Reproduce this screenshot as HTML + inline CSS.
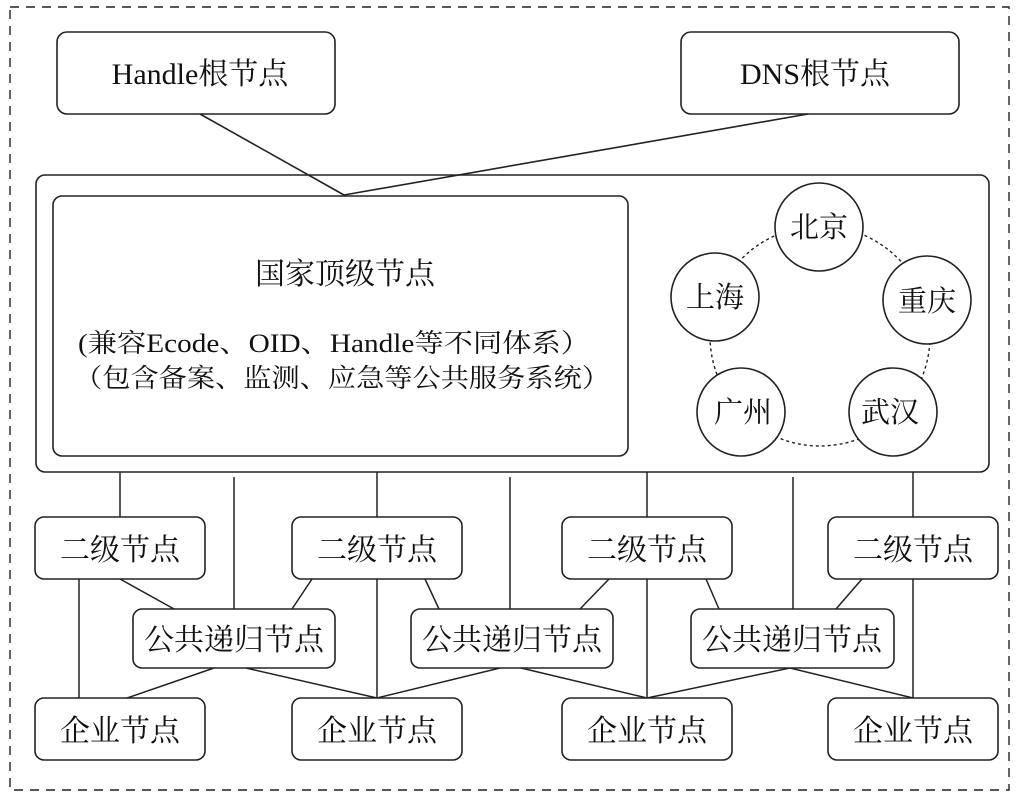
<!DOCTYPE html>
<html><head><meta charset="utf-8"><style>
html,body{margin:0;padding:0;background:#fff;}
svg{display:block;}
text{font-family:"Liberation Serif","Noto Serif CJK SC","Noto Sans CJK SC",serif;fill:#111;}
</style></head><body>
<svg width="1017" height="798" viewBox="0 0 1017 798" xmlns="http://www.w3.org/2000/svg">
<g fill="none" stroke="#222" stroke-width="1.6">
<rect x="10" y="7" width="999" height="783" stroke-dasharray="9,7" stroke-width="1.4"/>
<rect x="57" y="32" width="278" height="82" rx="10"/>
<rect x="681" y="32" width="278" height="82" rx="10"/>
<line x1="200" y1="114" x2="344" y2="195"/>
<line x1="808" y1="114" x2="344" y2="195"/>
<rect x="36" y="175" width="953" height="297" rx="9"/>
<rect x="53" y="196" width="575" height="260" rx="9"/>
<circle cx="820" cy="336" r="110" stroke-dasharray="3,3" stroke-width="1.4"/>
</g>
<g fill="#fff" stroke="#222" stroke-width="1.6">
<circle cx="819" cy="227" r="44"/>
<circle cx="715" cy="297" r="44"/>
<circle cx="927" cy="300" r="44"/>
<circle cx="741" cy="412" r="44"/>
<circle cx="893" cy="412" r="44"/>
</g>
<g fill="none" stroke="#222" stroke-width="1.5">
<line x1="120" y1="472" x2="120" y2="517"/>
<line x1="377" y1="472" x2="377" y2="517"/>
<line x1="647" y1="472" x2="647" y2="517"/>
<line x1="913" y1="472" x2="913" y2="517"/>
<line x1="234" y1="477" x2="234" y2="609"/>
<line x1="510" y1="477" x2="510" y2="609"/>
<line x1="793" y1="477" x2="793" y2="609"/>
<line x1="79" y1="579" x2="79" y2="698"/>
<line x1="120" y1="579" x2="174" y2="609"/>
<line x1="312" y1="579" x2="292" y2="609"/>
<line x1="377" y1="579" x2="377" y2="698"/>
<line x1="425" y1="579" x2="439" y2="609"/>
<line x1="609" y1="579" x2="580" y2="609"/>
<line x1="647" y1="579" x2="647" y2="698"/>
<line x1="706" y1="579" x2="719" y2="609"/>
<line x1="862" y1="579" x2="836" y2="609"/>
<line x1="913" y1="579" x2="913" y2="698"/>
<line x1="214" y1="668" x2="127" y2="698"/>
<line x1="246" y1="668" x2="377" y2="698"/>
<line x1="500" y1="668" x2="377" y2="698"/>
<line x1="521" y1="668" x2="647" y2="698"/>
<line x1="790" y1="668" x2="647" y2="698"/>
<line x1="790" y1="668" x2="913" y2="698"/>
</g>
<g fill="#fff" stroke="#222" stroke-width="1.6">
<rect x="35" y="517" width="170" height="62" rx="9"/>
<rect x="292" y="517" width="170" height="62" rx="9"/>
<rect x="562" y="517" width="170" height="62" rx="9"/>
<rect x="828" y="517" width="170" height="62" rx="9"/>
<rect x="133" y="609" width="202" height="59" rx="9"/>
<rect x="411" y="609" width="202" height="59" rx="9"/>
<rect x="691" y="609" width="203" height="59" rx="9"/>
<rect x="35" y="698" width="170" height="62" rx="9"/>
<rect x="292" y="698" width="170" height="62" rx="9"/>
<rect x="562" y="698" width="170" height="62" rx="9"/>
<rect x="828" y="698" width="170" height="62" rx="9"/>
</g>
<g font-size="30" text-anchor="middle">
<text x="200" y="84">Handle根节点</text>
<text x="815" y="84">DNS根节点</text>
<text x="345" y="284">国家顶级节点</text>
<text x="120" y="560">二级节点</text>
<text x="377" y="560">二级节点</text>
<text x="647" y="560">二级节点</text>
<text x="913" y="560">二级节点</text>
<text x="234" y="650">公共递归节点</text>
<text x="512" y="650">公共递归节点</text>
<text x="792" y="650">公共递归节点</text>
<text x="120" y="741">企业节点</text>
<text x="377" y="741">企业节点</text>
<text x="647" y="741">企业节点</text>
<text x="913" y="741">企业节点</text>
</g>
<g font-size="29" text-anchor="middle">
<text x="819" y="237">北京</text>
<text x="715" y="307">上海</text>
<text x="927" y="311">重庆</text>
<text x="743" y="422">广州</text>
<text x="890" y="422">武汉</text>
</g>
<g font-size="26" text-anchor="middle">
<text x="334" y="352" textLength="512" lengthAdjust="spacingAndGlyphs">(兼容Ecode、OID、Handle等不同体系）</text>
<text x="342" y="387" textLength="536" lengthAdjust="spacingAndGlyphs">（包含备案、监测、应急等公共服务系统）</text>
</g>
</svg>
</body></html>
